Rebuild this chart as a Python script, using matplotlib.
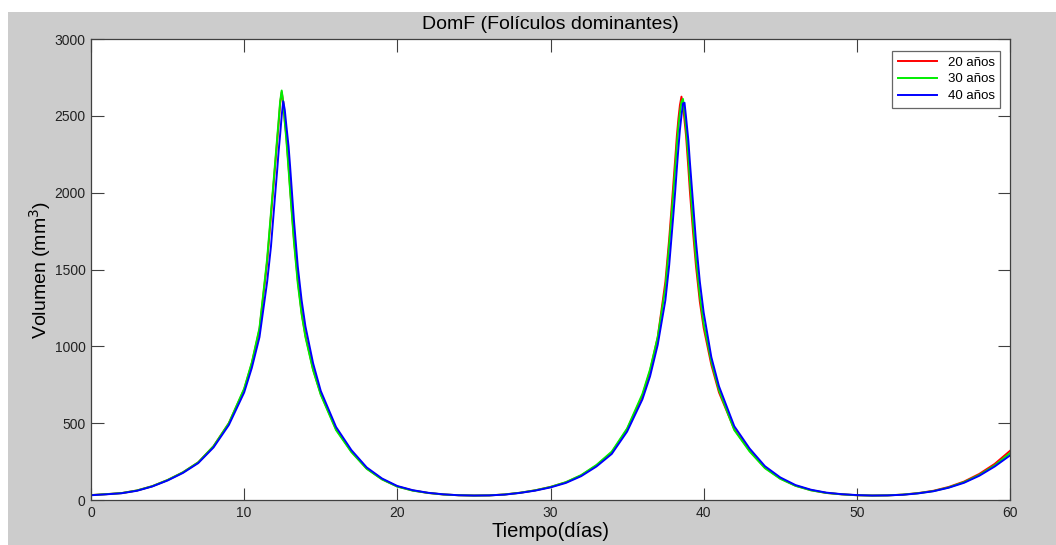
import matplotlib
matplotlib.use("Agg")
import matplotlib.pyplot as plt
from matplotlib.patches import Rectangle

plt.rcParams['font.family'] = ['Liberation Sans', 'DejaVu Sans']

# time grid (days), in segments
t_a = [0, 1, 2, 3, 4, 5, 6, 7, 8, 9, 10, 10.5, 11, 11.5]
t_b = [11.75, 12, 12.15, 12.25, 12.35, 12.45, 12.55, 12.65, 12.75, 12.9, 13, 13.25, 13.5, 13.75, 14, 14.5, 15]
t_c = [16, 17, 18, 19, 20, 21, 22, 23, 24, 25, 26, 27, 28, 29, 30, 31, 32, 33, 34, 35, 36, 36.5, 37, 37.5]
t_d = [37.75, 38, 38.15, 38.25, 38.35, 38.45, 38.55, 38.65, 38.75, 38.85, 39.0, 39.1, 39.3, 39.5, 39.75, 40, 40.5, 41]
t_e = [42, 43, 44, 45, 46, 47, 48, 49, 50, 51, 52, 53, 54, 55, 56, 57, 58, 59, 60]

# 20 años
r_a = [32, 38, 45, 62, 90, 130, 180, 245, 350, 500, 720, 890, 1110, 1550]
r_b = [1850, 2150, 2330, 2450, 2580, 2655, 2590, 2470, 2370, 2170, 2030, 1700, 1430, 1220, 1070, 850, 690]
r_c = [460, 315, 205, 135, 88, 62, 46, 36, 31, 29, 30, 36, 47, 63, 85, 115, 160, 225, 310, 460, 680, 840, 1060, 1420]
r_d = [1700, 2030, 2230, 2370, 2480, 2570, 2625, 2570, 2470, 2370, 2160, 2010, 1750, 1520, 1290, 1120, 880, 700]
r_e = [460, 320, 210, 140, 93, 64, 46, 37, 31, 29, 30, 35, 45, 60, 85, 120, 170, 235, 320]

# 30 años
g_a = [32, 38, 45, 62, 90, 130, 180, 245, 350, 500, 725, 895, 1120, 1570]
g_b = [1870, 2170, 2350, 2470, 2595, 2665, 2590, 2460, 2350, 2150, 2010, 1680, 1410, 1210, 1060, 845, 685]
g_c = [455, 312, 203, 134, 87, 61, 46, 36, 31, 29, 30, 36, 47, 63, 85, 116, 162, 228, 315, 465, 690, 850, 1060, 1380]
g_d = [1660, 1970, 2170, 2310, 2430, 2520, 2590, 2610, 2520, 2420, 2230, 2080, 1810, 1570, 1330, 1150, 900, 715]
g_e = [455, 316, 207, 138, 92, 63, 46, 37, 31, 29, 30, 35, 44, 58, 82, 116, 163, 225, 305]

# 40 años
b_a = [31, 37, 44, 60, 88, 127, 176, 240, 342, 488, 700, 860, 1060, 1420]
b_b = [1650, 1960, 2140, 2270, 2380, 2500, 2595, 2540, 2440, 2300, 2170, 1820, 1520, 1300, 1130, 890, 710]
b_c = [475, 325, 212, 140, 91, 64, 47, 37, 31, 29, 30, 35, 46, 61, 82, 111, 155, 218, 300, 445, 655, 805, 1010, 1300]
b_d = [1530, 1830, 2020, 2160, 2290, 2410, 2500, 2580, 2585, 2490, 2340, 2200, 1940, 1680, 1420, 1220, 930, 740]
b_e = [480, 335, 220, 147, 97, 67, 48, 38, 32, 29, 30, 34, 43, 57, 80, 112, 158, 218, 290]

t = t_a + t_b + t_c + t_d + t_e
v20 = r_a + r_b + r_c + r_d + r_e
v30 = g_a + g_b + g_c + g_d + g_e
v40 = b_a + b_b + b_c + b_d + b_e

labels = ['20 años', '30 años', '40 años']
colors = ['#ff0000', '#00ee00', '#0000ff']
xticks = [0, 10, 20, 30, 40, 50, 60]
yticks = [0, 500, 1000, 1500, 2000, 2500, 3000]

W, H = 1056, 545
fig = plt.figure(figsize=(W / 100, H / 100), dpi=100, facecolor='white')
fig.patches.append(Rectangle((8 / W, 0), 1 - 8 / W, 1 - 12 / H, transform=fig.transFigure,
                             facecolor='#cccccc', edgecolor='none', zorder=-10))

ax = fig.add_axes([91 / W, 45 / H, (1010 - 91) / W, (500 - 39) / H])
ax.set_facecolor('white')

for v, lab, c in zip([v20, v30, v40], labels, colors):
    ax.plot(t, v, color=c, lw=1.4, label=lab)

ax.set_xlim(0, 60)
ax.set_ylim(0, 3000)
ax.set_xticks(xticks)
ax.set_yticks(yticks)
ax.tick_params(direction='in', length=9, width=0.8, color='#404040', top=True, right=True,
               labelsize=10, labelcolor='#222222', pad=4)
for s in ax.spines.values():
    s.set_color('#404040')
    s.set_linewidth(0.9)

ax.set_title('DomF (Folículos dominantes)', fontsize=14, pad=7.5)
ax.set_xlabel('Tiempo(días)', fontsize=14.5, labelpad=2)
ax.set_ylabel('Volumen (mm$^3$)', fontsize=14, labelpad=1)

leg = ax.legend(loc='upper right', fontsize=9.5, frameon=True, fancybox=False,
                edgecolor='#404040', handlelength=3.0, borderpad=0.4, labelspacing=0.35,
                bbox_to_anchor=(0.9965, 0.988))
leg.get_frame().set_linewidth(0.9)

fig.savefig('out.png', dpi=100, facecolor=fig.get_facecolor())
